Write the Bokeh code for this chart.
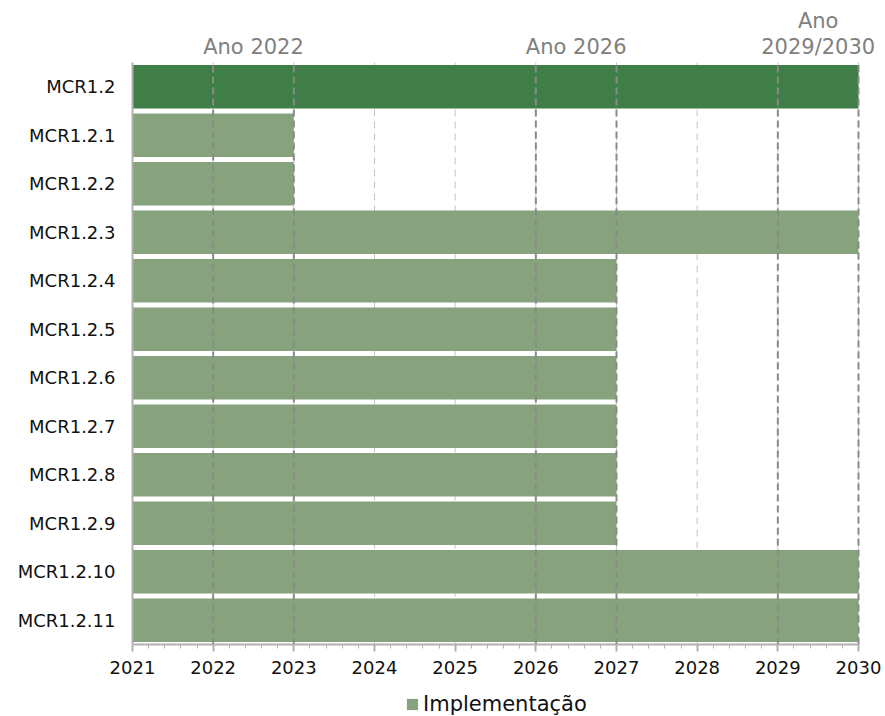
from bokeh.plotting import figure
from bokeh.models import (Range1d, SingleIntervalTicker, FixedTicker,
                          Legend, LegendItem, ColumnDataSource)
from bokeh.core.properties import value
from bokeh.embed import file_html
from bokeh.resources import INLINE

# ---- data ----
categories = ["MCR1.2", "MCR1.2.1", "MCR1.2.2", "MCR1.2.3", "MCR1.2.4", "MCR1.2.5",
              "MCR1.2.6", "MCR1.2.7", "MCR1.2.8", "MCR1.2.9", "MCR1.2.10", "MCR1.2.11"]
start_year = [2021] * 12
end_year = [2030, 2023, 2023, 2030, 2027, 2027, 2027, 2027, 2027, 2027, 2030, 2030]
is_parent = [True] + [False] * 11
legend_label = "Implementação"

grid_years = [2022, 2023, 2024, 2025, 2026, 2027, 2028, 2029, 2030]
milestone_years = [2022, 2023, 2026, 2027, 2029, 2030]
milestone_text_x = [2022.5, 2026.5, 2029.5, 2029.5]
milestone_text = ["Ano 2022", "Ano 2026", "2029/2030", "Ano"]
milestone_line = [0, 0, 0, 1]   # 0 = lower line, 1 = upper line

x_min, x_max = 2021, 2030

# ---- layout constants ----
FONT = "DejaVu Sans"
DARK = "#3f7f47"
LIGHT = "#86a37e"
W, H = 885, 716
LEFT_SPACE, AXIS_W = 132, 726
ROWS_H, TOP_SPACE = 582, 62
n = len(categories)
row_px = ROWS_H / n
px_year = AXIS_W / (x_max - x_min)
x_start = x_min - LEFT_SPACE / px_year
x_end = x_start + W / px_year
y_top = n + TOP_SPACE / row_px
y_bottom = y_top - H / row_px

ypos = [n - 1 - i + 0.5 for i in range(n)]

parent = ColumnDataSource(dict(
    y=[y for y, p in zip(ypos, is_parent) if p],
    left=[s for s, p in zip(start_year, is_parent) if p],
    right=[e for e, p in zip(end_year, is_parent) if p]))
child = ColumnDataSource(dict(
    y=[y for y, p in zip(ypos, is_parent) if not p],
    left=[s for s, p in zip(start_year, is_parent) if not p],
    right=[e for e, p in zip(end_year, is_parent) if not p]))

p = figure(frame_width=W, frame_height=H,
           output_backend="svg", toolbar_location=None,
           x_range=Range1d(x_start, x_end), y_range=Range1d(y_bottom, y_top),
           min_border=0)
p.outline_line_color = None
p.background_fill_color = "white"
p.xgrid.grid_line_color = None
p.ygrid.grid_line_color = None

# light dashed year grid (behind bars)
p.segment(x0=grid_years, y0=[0] * len(grid_years), x1=grid_years, y1=[n] * len(grid_years),
          line_color="#c4c4c4", line_width=1, line_dash="7 5")

p.hbar(y="y", left="left", right="right", height=0.9, source=parent,
       fill_color=DARK, line_color=None)
r_child = p.hbar(y="y", left="left", right="right", height=0.9, source=child,
                 fill_color=LIGHT, line_color=None)

# dark dashed milestone lines (over bars)
p.segment(x0=milestone_years, y0=[0] * len(milestone_years),
          x1=milestone_years, y1=[n] * len(milestone_years),
          line_color="#8a8a8a", line_width=2, line_dash="7 4")

# milestone captions
ann_y = [n + (16 + k * 26) / row_px for k in milestone_line]
p.text(x=milestone_text_x, y=ann_y, text=milestone_text, text_align="center",
       text_baseline="middle", text_font=value(FONT), text_font_size="21px",
       text_color="#808080")

# axes (placed inside the frame at fixed locations)
p.xaxis.fixed_location = 0
p.xaxis.bounds = (x_min, x_max)
p.xaxis.ticker = SingleIntervalTicker(interval=1, num_minor_ticks=5)
p.xaxis.axis_line_color = "#b0b0b0"
p.xaxis.axis_line_width = 2
p.xaxis.major_tick_line_color = "#b0b0b0"
p.xaxis.major_tick_line_width = 2
p.xaxis.minor_tick_line_color = "#b0b0b0"
p.xaxis.minor_tick_line_width = 1
p.xaxis.major_tick_in = 0
p.xaxis.major_tick_out = 7
p.xaxis.minor_tick_in = 0
p.xaxis.minor_tick_out = 4
p.xaxis.major_label_standoff = 9
p.xaxis.major_label_text_font = FONT
p.xaxis.major_label_text_font_size = "18px"
p.xaxis.major_label_text_color = "#111111"

p.yaxis.fixed_location = x_min
p.yaxis.bounds = (0, n)
p.yaxis.ticker = FixedTicker(ticks=ypos)
p.yaxis.major_label_overrides = {y: c for y, c in zip(ypos, categories)}
p.yaxis.axis_line_color = "#b0b0b0"
p.yaxis.axis_line_width = 2
p.yaxis.major_tick_line_color = None
p.yaxis.minor_tick_line_color = None
p.yaxis.major_tick_out = 0
p.yaxis.major_tick_in = 0
p.yaxis.major_label_standoff = 17
p.yaxis.major_label_text_font = FONT
p.yaxis.major_label_text_font_size = "18px"
p.yaxis.major_label_text_color = "#111111"

legend = Legend(items=[LegendItem(label=legend_label, renderers=[r_child])],
                orientation="horizontal", location=(405, 0),
                border_line_color=None, background_fill_alpha=0,
                label_text_font=FONT, label_text_font_size="21px",
                label_text_color="#111111",
                glyph_width=14, glyph_height=14, padding=0, margin=0,
                label_standoff=4)
p.add_layout(legend, "center")

open("out.html", "w").write(file_html(p, INLINE))
